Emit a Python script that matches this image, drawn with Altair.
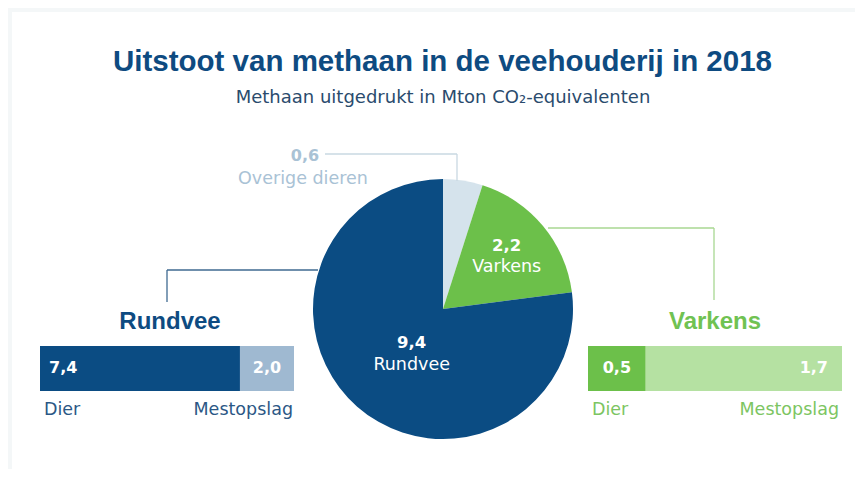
import altair as alt
import pandas as pd

# ---------------- data ----------------
TITLE = "Uitstoot van methaan in de veehouderij in 2018"
SUBTITLE = "Methaan uitgedrukt in Mton CO₂-equivalenten"

pie_names = ["Overige dieren", "Varkens", "Rundvee"]
pie_values = [0.6, 2.2, 9.4]
pie_labels = ["0,6", "2,2", "9,4"]

bar_parts = ["Dier", "Mestopslag"]
rund_values = [7.4, 2.0]
rund_labels = ["7,4", "2,0"]
vark_values = [0.5, 1.7]
vark_labels = ["0,5", "1,7"]

# ---------------- layout / style ----------------
O = 12  # plot origin on the page


def P(v):
    return v - O


W, H = 843, 457
LABEL_FONT = "DejaVu Sans"
HEAD_FONT = "Liberation Sans"

DARK_BLUE = "#0b4c83"
TITLE_BLUE = "#0e4b81"
PIE_COLORS = ["#d5e3ec", "#6cc04a", "#0b4c83"]
RUND_COLORS = ["#0b4c83", "#9fb9d1"]
VARK_COLORS = ["#6cc04a", "#b5e1a2"]

one = pd.DataFrame({"k": [0]})


def text(s, x, y, size, color, weight="normal", font=LABEL_FONT,
         align="center", baseline="middle"):
    return alt.Chart(one).mark_text(
        fontSize=size, color=color, fontWeight=weight, font=font,
        align=align, baseline=baseline
    ).encode(x=alt.value(P(x)), y=alt.value(P(y)), text=alt.value(s))


def line(x1, y1, x2, y2, color, width=1.3):
    return alt.Chart(one).mark_rule(color=color, strokeWidth=width).encode(
        x=alt.value(P(x1)), y=alt.value(P(y1)),
        x2=alt.value(P(x2)), y2=alt.value(P(y2)))


layers = []

# titles
layers.append(text(TITLE, 442.5, 70.7, 29.5, TITLE_BLUE, "bold", HEAD_FONT,
                   baseline="alphabetic"))
layers.append(text(SUBTITLE, 443, 103.3, 18, "#2a4b6d", baseline="alphabetic"))

# ---------------- pie ----------------
pie_df = pd.DataFrame({"name": pie_names, "value": pie_values,
                       "label": pie_labels, "order": [0, 1, 2]})
CX, CY, R = P(443), P(309), 130
pie_base = alt.Chart(pie_df).encode(
    theta=alt.Theta("value:Q", stack=True),
    order=alt.Order("order:Q"),
    x=alt.value(CX), y=alt.value(CY),
)
layers.append(pie_base.mark_arc(outerRadius=R).encode(
    color=alt.Color("name:N", scale=alt.Scale(domain=pie_names, range=PIE_COLORS),
                    legend=None)))


def slice_text(name, field, radius, dx, dy, weight, size):
    return pie_base.mark_text(radius=radius, dx=dx, dy=dy, fontWeight=weight,
                              fontSize=size, font=LABEL_FONT, color="white").encode(
        text=alt.condition(f"datum.name == '{name}'", alt.Text(f"{field}:N"),
                           alt.value("")))


layers.append(slice_text("Varkens", "label", 83, 0, -10, "bold", 16.5))
layers.append(slice_text("Varkens", "name", 83, 0, 11, "normal", 17.5))
layers.append(slice_text("Rundvee", "label", 55, 5, -7, "bold", 16.5))
layers.append(slice_text("Rundvee", "name", 55, 5, 15, "normal", 17.5))

# overige dieren label + connector
OV = "#a9c2d5"
layers.append(text(pie_labels[0], 305, 156, 16, OV, "bold"))
layers.append(text(pie_names[0], 303, 179, 17.5, OV))
layers.append(line(325, 154, 457, 154, "#c9d8e2"))
layers.append(line(457, 154, 457, 181, "#c9d8e2"))

# connectors to the bars
layers.append(line(318, 270, 167, 270, "#3f6a91"))
layers.append(line(167, 270, 167, 302, "#3f6a91"))
layers.append(line(548, 228, 714, 228, "#a8d792"))
layers.append(line(714, 228, 714, 300, "#a8d792"))


# ---------------- bars ----------------
def bar_df(values, labels):
    df = pd.DataFrame({"part": bar_parts, "value": values, "label": labels})
    df["end"] = df["value"].cumsum()
    df["start"] = df["end"] - df["value"]
    df["mid"] = (df["start"] + df["end"]) / 2
    return df


def bar_group(df, x0, x1, colors, head, head_x, head_color, cat_color, label_spec, cat_dx):
    total = float(df["value"].sum())
    sc = alt.Scale(domain=[0, total], range=[P(x0), P(x1)])
    base = alt.Chart(df)
    out = [base.mark_rect().encode(
        x=alt.X("start:Q", scale=sc, axis=None), x2="end:Q",
        y=alt.value(P(346)), y2=alt.value(P(391)),
        color=alt.Color("part:N", scale=alt.Scale(domain=bar_parts, range=colors),
                        legend=None))]
    for part, field, align, dx in label_spec:
        out.append(base.transform_filter(f"datum.part == '{part}'").mark_text(
            align=align, dx=dx, baseline="middle", fontWeight="bold",
            fontSize=16, font=LABEL_FONT, color="white").encode(
            x=alt.X(f"{field}:Q", scale=sc, axis=None), y=alt.value(P(368)),
            text="label:N"))
    out.append(base.transform_filter("datum.part == 'Dier'").mark_text(
        align="left", dx=cat_dx[0], baseline="middle", fontSize=17.5,
        font=LABEL_FONT, color=cat_color).encode(
        x=alt.X("start:Q", scale=sc, axis=None), y=alt.value(P(410)), text="part:N"))
    out.append(base.transform_filter("datum.part == 'Mestopslag'").mark_text(
        align="right", dx=cat_dx[1], baseline="middle", fontSize=17.5,
        font=LABEL_FONT, color=cat_color).encode(
        x=alt.X("end:Q", scale=sc, axis=None), y=alt.value(P(410)), text="part:N"))
    out.append(text(head, head_x, 322, 24, head_color, "bold", HEAD_FONT))
    return out


rund = bar_df(rund_values, rund_labels)
vark = bar_df(vark_values, vark_labels)

layers += bar_group(rund, 40, 294, RUND_COLORS, "Rundvee", 170, TITLE_BLUE, "#2b5785",
                    [("Dier", "start", "left", 9), ("Mestopslag", "mid", "center", 0)],
                    (4, -1))
layers += bar_group(vark, 588, 842, VARK_COLORS, "Varkens", 715, "#70c252", "#7cc562",
                    [("Dier", "mid", "center", 0), ("Mestopslag", "end", "right", -14)],
                    (4, -3))

chart = alt.layer(*layers).resolve_scale(
    x="independent", color="independent"
).properties(
    width=W, height=H,
    padding={"left": 4, "top": 4, "right": 0, "bottom": 0},
    autosize=alt.AutoSizeParams(type="none"),
    background="#f4f7f8",
).configure_view(fill="white", strokeWidth=0)

chart.save("out.html", embed_options={"renderer": "svg", "actions": False})
